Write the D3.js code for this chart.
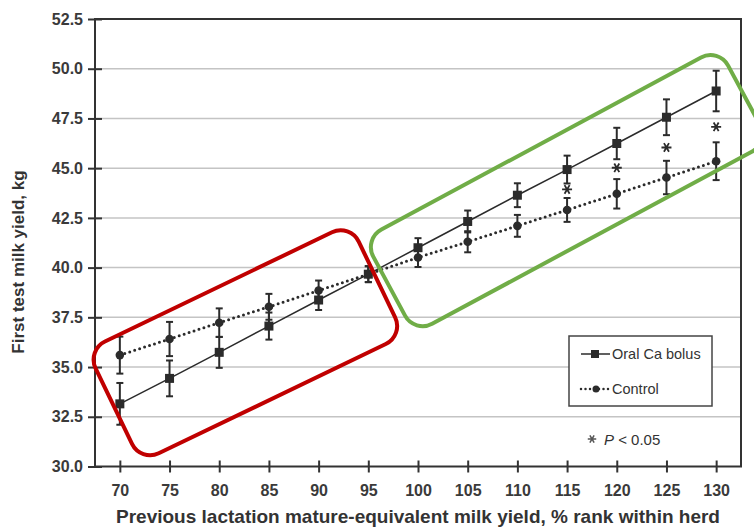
<!DOCTYPE html>
<html>
<head>
<meta charset="utf-8">
<script src="https://cdn.jsdelivr.net/npm/d3@7"></script>
<style>
  body { margin: 0; background: #fff; }
  svg { display: block; font-family: "Liberation Sans", Arial, sans-serif; }
</style>
</head>
<body>
<div id="chart"></div>
<script>
// rank groups on the x axis
const ranks = [70, 75, 80, 85, 90, 95, 100, 105, 110, 115, 120, 125, 130];

// Oral Ca bolus: mean and half error bar
const bolusMean = [33.15, 34.43, 35.74, 37.06, 38.37, 39.67, 41.0, 42.32, 43.64, 44.93, 46.24, 47.56, 48.88];
const bolusErr = [1.05, 0.9, 0.78, 0.68, 0.5, 0.4, 0.48, 0.55, 0.6, 0.7, 0.79, 0.9, 1.02];

// Control: mean and half error bar
const controlMean = [35.6, 36.41, 37.23, 38.03, 38.85, 39.67, 40.51, 41.3, 42.1, 42.9, 43.71, 44.53, 45.35];
const controlErr = [0.93, 0.86, 0.72, 0.65, 0.5, 0.4, 0.48, 0.53, 0.55, 0.6, 0.74, 0.84, 0.95];

// significance markers (P < 0.05)
const sigRanks = [115, 120, 125, 130];
const sigY = [43.93, 45.02, 46.04, 47.08];

const yTicks = [30.0, 32.5, 35.0, 37.5, 40.0, 42.5, 45.0, 47.5, 50.0, 52.5];

const W = 754, H = 527;
const plot = { left: 95, right: 741, top: 19, bottom: 466.5 };
const ink = "#2b2b2b";

const svg = d3.select("#chart").append("svg")
  .attr("width", W).attr("height", H);

svg.append("rect").attr("width", W).attr("height", H).attr("fill", "#fff");

var x = d3.scaleLinear().domain([67.5, 132.5]).range([plot.left, plot.right]);
var y = d3.scaleLinear().domain([30, 52.5]).range([plot.bottom, plot.top]);

/* ------- GRID -------*/
svg.append("g").selectAll("line")
  .data(yTicks.filter(d => d > 30 && d < 52.5))
  .enter().append("line")
  .attr("x1", plot.left).attr("x2", plot.right)
  .attr("y1", d => y(d)).attr("y2", d => y(d))
  .attr("stroke", "#c4c4c4").attr("stroke-width", 1.5);

/* ------- FRAME -------*/
svg.append("rect")
  .attr("x", plot.left).attr("y", plot.top)
  .attr("width", plot.right - plot.left).attr("height", plot.bottom - plot.top)
  .attr("fill", "none").attr("stroke", "#333").attr("stroke-width", 2);

/* ------- AXES -------*/
var yAxis = svg.append("g")
  .attr("transform", "translate(" + plot.left + ",0)")
  .call(d3.axisLeft(y).tickValues(yTicks).tickFormat(d3.format(".1f")).tickSize(7).tickPadding(5));
yAxis.select(".domain").remove();
yAxis.selectAll(".tick line").attr("x1", 7).attr("stroke", "#333").attr("stroke-width", 2);
yAxis.selectAll(".tick text")
  .attr("fill", "#3a3a3a").style("font-size", "16px").style("font-weight", "bold");

var xAxis = svg.append("g")
  .attr("transform", "translate(0," + plot.bottom + ")")
  .call(d3.axisBottom(x).tickValues(ranks).tickSize(6).tickPadding(12));
xAxis.select(".domain").remove();
xAxis.selectAll(".tick line").attr("y1", -6).attr("stroke", "#333").attr("stroke-width", 2);
xAxis.selectAll(".tick text")
  .attr("fill", "#3a3a3a").style("font-size", "16px").style("font-weight", "bold");

svg.append("text")
  .attr("x", (plot.left + plot.right) / 2).attr("y", 523)
  .attr("text-anchor", "middle")
  .attr("fill", "#333").style("font-size", "19px").style("font-weight", "bold")
  .text("Previous lactation mature-equivalent milk yield, % rank within herd");

svg.append("text")
  .attr("transform", "translate(24,262) rotate(-90)")
  .attr("text-anchor", "middle")
  .attr("fill", "#333").style("font-size", "17px").style("font-weight", "bold")
  .text("First test milk yield, kg");

/* ------- SERIES -------*/
var bolus = ranks.map((r, i) => ({ x: r, y: bolusMean[i], e: bolusErr[i] }));
var control = ranks.map((r, i) => ({ x: r, y: controlMean[i], e: controlErr[i] }));

var line = d3.line().x(d => x(d.x)).y(d => y(d.y));

svg.append("path").datum(control).attr("d", line)
  .attr("fill", "none").attr("stroke", ink).attr("stroke-width", 3)
  .attr("stroke-linecap", "round").attr("stroke-dasharray", "0,5.2");

svg.append("path").datum(bolus).attr("d", line)
  .attr("fill", "none").attr("stroke", ink).attr("stroke-width", 1.5);

function errorBars(data) {
  var g = svg.append("g").attr("stroke", ink).attr("stroke-width", 2);
  g.selectAll(".bar").data(data).enter().append("line")
    .attr("x1", d => x(d.x)).attr("x2", d => x(d.x))
    .attr("y1", d => y(d.y - d.e)).attr("y2", d => y(d.y + d.e));
  [-1, 1].forEach(function (s) {
    g.selectAll(".cap" + s).data(data).enter().append("line")
      .attr("x1", d => x(d.x) - 3.5).attr("x2", d => x(d.x) + 3.5)
      .attr("y1", d => y(d.y + s * d.e)).attr("y2", d => y(d.y + s * d.e));
  });
}
errorBars(control);
errorBars(bolus);

svg.append("g").selectAll("circle").data(control).enter().append("circle")
  .attr("cx", d => x(d.x)).attr("cy", d => y(d.y)).attr("r", 4.3)
  .attr("fill", ink);

svg.append("g").selectAll("rect").data(bolus).enter().append("rect")
  .attr("x", d => x(d.x) - 4.5).attr("y", d => y(d.y) - 4.5)
  .attr("width", 9).attr("height", 9).attr("fill", ink);

var star = d3.symbol().type(d3.symbolAsterisk).size(70);
svg.append("g").selectAll("path").data(sigRanks).enter().append("path")
  .attr("d", star)
  .attr("transform", (d, i) => "translate(" + x(d) + "," + y(sigY[i]) + ") rotate(90)")
  .attr("fill", "none").attr("stroke", ink).attr("stroke-width", 1.8);

/* ------- LEGEND -------*/
var lg = svg.append("g").attr("transform", "translate(569,336)");
lg.append("rect").attr("width", 143).attr("height", 70)
  .attr("fill", "#fff").attr("stroke", "#444").attr("stroke-width", 1.5);
lg.append("line").attr("x1", 12).attr("x2", 41).attr("y1", 18).attr("y2", 18)
  .attr("stroke", ink).attr("stroke-width", 1.5);
lg.append("rect").attr("x", 22).attr("y", 14).attr("width", 8).attr("height", 8).attr("fill", ink);
lg.append("text").attr("x", 43).attr("y", 23).attr("fill", "#333")
  .style("font-size", "14.5px").text("Oral Ca bolus");
lg.append("line").attr("x1", 12).attr("x2", 41).attr("y1", 53).attr("y2", 53)
  .attr("stroke", ink).attr("stroke-width", 2.5).attr("stroke-linecap", "round")
  .attr("stroke-dasharray", "0,4.5");
lg.append("circle").attr("cx", 27).attr("cy", 53).attr("r", 3.5).attr("fill", ink);
lg.append("text").attr("x", 43).attr("y", 58).attr("fill", "#333")
  .style("font-size", "14.5px").text("Control");

svg.append("path").attr("d", d3.symbol().type(d3.symbolAsterisk).size(50))
  .attr("transform", "translate(592,439) rotate(90)")
  .attr("fill", "none").attr("stroke", "#555").attr("stroke-width", 1.5);
var pt = svg.append("text").attr("x", 604).attr("y", 445).attr("fill", "#333")
  .style("font-size", "15px");
pt.append("tspan").style("font-style", "italic").text("P");
pt.append("tspan").text(" < 0.05");

/* ------- HIGHLIGHT BOXES -------*/
const boxes = [
  { cx: 82.63, cy: 36.22, w: 292, h: 124, angle: -25.7, color: "#c00000" },
  { cx: 114.95, cy: 43.87, w: 403, h: 107, angle: -28.3, color: "#70ad47" },
];
svg.append("g").selectAll("rect").data(boxes).enter().append("rect")
  .attr("x", d => -d.w / 2).attr("y", d => -d.h / 2)
  .attr("width", d => d.w).attr("height", d => d.h)
  .attr("rx", 20).attr("ry", 20)
  .attr("transform", d => "translate(" + x(d.cx) + "," + y(d.cy) + ") rotate(" + d.angle + ")")
  .attr("fill", "none").attr("stroke", d => d.color).attr("stroke-width", 4);
</script>
</body>
</html>
